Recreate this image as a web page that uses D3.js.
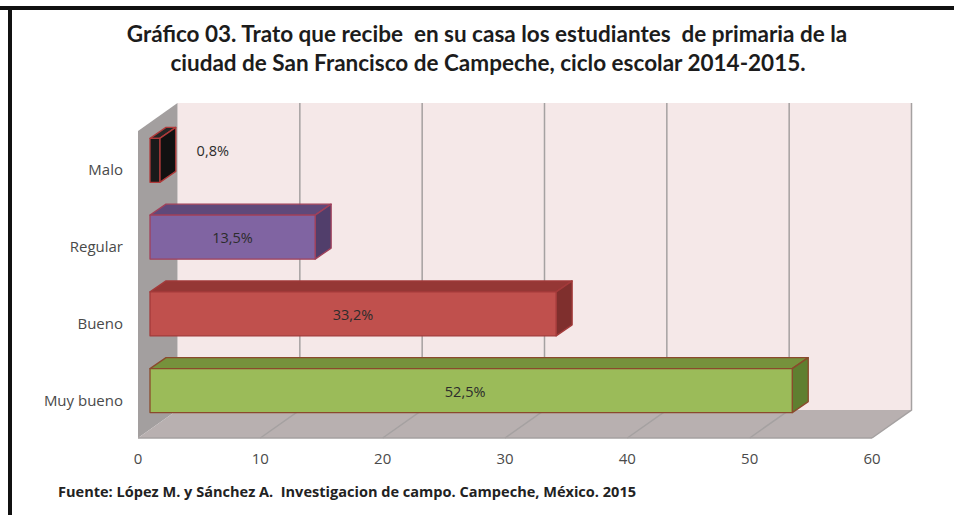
<!DOCTYPE html>
<meta charset="utf-8">
<style>
body { margin: 0; background: #fff; }
text { font-family: "Open Sans", sans-serif; fill: #404040; white-space: pre; }
.title { font-family: Lato, sans-serif; font-size: 22.5px; font-weight: 700; fill: #1c1c1c; text-anchor: middle; }
.fuente { font-size: 14.55px; font-weight: 700; fill: #222; }
.tick-label { font-size: 15px; text-anchor: middle; fill: #4a4a4a; }
.cat-label { font-size: 15px; text-anchor: end; fill: #4a4a4a; }
.value-label { font-size: 14.5px; text-anchor: middle; fill: #2c2c2c; }
</style>
<title>Gráfico 03</title>
<body>
<div id="chart"></div>
<script src="https://d3js.org/d3.v7.min.js"></script>
<script>
var categories = ["Muy bueno", "Bueno", "Regular", "Malo"];
var values = [52.5, 33.2, 13.5, 0.8];
var valueLabels = ["52,5%", "33,2%", "13,5%", "0,8%"];
var ticks = [0, 10, 20, 30, 40, 50, 60];
var frontColors = ["#9bbb59", "#c0504d", "#8064a2", "#1a1a1a"];
var topColors = ["#76923c", "#953735", "#5f497a", "#262626"];
var sideColors = ["#5f7f30", "#7f2f2d", "#513e6b", "#111111"];
var strokeColors = ["#8a4a2c", "#a33a3a", "#a0405a", "#b03a3a"];

var svg = d3.select("#chart").append("svg").attr("width", 954).attr("height", 515);

// frame, only top and left show in the picture
svg.append("rect").attr("x", 0).attr("y", 6).attr("width", 954).attr("height", 4).attr("fill", "#111");
svg.append("rect").attr("x", 8).attr("y", 6).attr("width", 4).attr("height", 509).attr("fill", "#111");

svg.append("text").attr("class", "title").attr("x", 487).attr("y", 42)
  .text("Gráfico 03. Trato que recibe  en su casa los estudiantes  de primaria de la");
svg.append("text").attr("class", "title").attr("x", 488).attr("y", 71)
  .text("ciudad de San Francisco de Campeche, ciclo escolar 2014-2015.");

var x = d3.scaleLinear().domain([0, 60]).range([138, 872]);
var y = d3.scaleBand().domain(categories).range([438, 131]).paddingInner(0.427).paddingOuter(0.2135);

// 3d offsets: the whole box depth, where bars start and how deep they are
var depth = { dx: 39.5, dy: -28 };
var barFront = { dx: 12, dy: -9 };
var barDepth = { dx: 16, dy: -11 };

var x0 = x(0), x1 = x(60), yTop = y.range()[1], yBot = y.range()[0];
var line = function (pts) { return d3.line()(pts) + "Z"; };

// back wall
svg.append("rect")
  .attr("x", x0 + depth.dx).attr("y", yTop + depth.dy)
  .attr("width", x1 - x0).attr("height", yBot - yTop)
  .attr("fill", "#f5e8e8");
// side wall
svg.append("path")
  .attr("d", line([[x0, yTop], [x0 + depth.dx, yTop + depth.dy], [x0 + depth.dx, yBot + depth.dy], [x0, yBot]]))
  .attr("fill", "#a39f9f");
// floor
svg.append("path")
  .attr("d", line([[x0, yBot], [x0 + depth.dx, yBot + depth.dy], [x1 + depth.dx, yBot + depth.dy], [x1, yBot]]))
  .attr("fill", "#b8b0b0");

// grid on wall and floor
svg.append("g").selectAll("path").data(ticks.slice(1)).enter().append("path")
  .attr("d", function (d) {
    return d3.line()([[x(d), yBot], [x(d) + depth.dx, yBot + depth.dy], [x(d) + depth.dx, yTop + depth.dy]]);
  })
  .attr("fill", "none").attr("stroke", "#a5a1a1").attr("stroke-width", 1.5);
svg.append("path")
  .attr("d", d3.line()([[x0, yBot], [x1, yBot]]))
  .attr("stroke", "#a5a1a1").attr("stroke-width", 1.5);

svg.append("g").selectAll("text").data(ticks).enter().append("text")
  .attr("class", "tick-label")
  .attr("x", function (d) { return x(d); })
  .attr("y", 464)
  .text(function (d) { return d; });

svg.append("g").selectAll("text").data(categories).enter().append("text")
  .attr("class", "cat-label")
  .attr("x", 123)
  .attr("y", function (d) { return y(d) + y.bandwidth() / 2 + 6; })
  .text(function (d) { return d; });

// bars, drawn from the back (Malo) to the front
var bars = svg.append("g").selectAll("g")
  .data(d3.range(categories.length).reverse()).enter().append("g")
  .attr("stroke-width", 1.3).attr("stroke-linejoin", "round");

bars.each(function (i) {
  var g = d3.select(this);
  var l = x0 + barFront.dx;
  var r = x(values[i]) + barFront.dx;
  var t = y(categories[i]) + barFront.dy;
  var b = t + y.bandwidth();
  g.append("path")
    .attr("d", line([[l, t], [l + barDepth.dx, t + barDepth.dy], [r + barDepth.dx, t + barDepth.dy], [r, t]]))
    .attr("fill", topColors[i]).attr("stroke", strokeColors[i]);
  g.append("path")
    .attr("d", line([[r, t], [r + barDepth.dx, t + barDepth.dy], [r + barDepth.dx, b + barDepth.dy], [r, b]]))
    .attr("fill", sideColors[i]).attr("stroke", strokeColors[i]);
  g.append("rect")
    .attr("x", l).attr("y", t).attr("width", r - l).attr("height", b - t)
    .attr("fill", frontColors[i]).attr("stroke", strokeColors[i]);
});

// value labels, the small one sits off the bar and higher up, the long one a bit left of centre
svg.append("g").selectAll("text").data(values).enter().append("text")
  .attr("class", "value-label")
  .attr("x", function (d, i) {
    if (d < 1) return x(d) + 65;
    return (x0 + x(d)) / 2 + barFront.dx + (d > 50 ? -6 : 0);
  })
  .attr("y", function (d, i) { return y(categories[i]) + y.bandwidth() / 2 + barFront.dy + (d < 1 ? -4 : 6); })
  .text(function (d, i) { return valueLabels[i]; });

svg.append("text").attr("class", "fuente").attr("x", 58).attr("y", 497)
  .text("Fuente: López M. y Sánchez A.  Investigacion de campo. Campeche, México. 2015");
</script>
</body>
